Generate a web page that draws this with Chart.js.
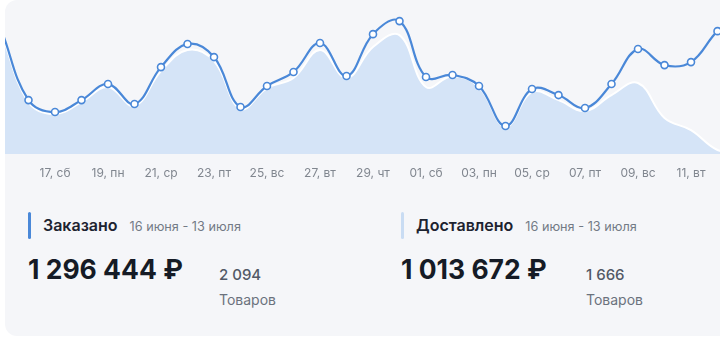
<!DOCTYPE html>
<html lang="ru">
<head>
<meta charset="utf-8">
<script src="https://cdn.jsdelivr.net/npm/chart.js@4.4.1/dist/chart.umd.min.js"></script>
<style>
    html, body { margin: 0; padding: 0; background: #fff; }
    body { width: 720px; height: 339px; overflow: hidden; position: relative; font-family: Inter, "Noto Sans", sans-serif; }
    .card { position: absolute; left: 5px; top: 0; width: 740px; height: 336px; background: #f5f6f9; border-radius: 12px; overflow: hidden; }
    .plot { position: absolute; left: 0; top: 0; width: 715px; height: 185px; overflow: hidden; }
    .plot canvas { position: absolute; left: -15px; top: 0; }
    .stat { position: absolute; top: 211px; }
    .stat .bar { position: absolute; left: 0; top: 1px; width: 3px; height: 27px; border-radius: 2px; }
    .stat .title { position: absolute; left: 15px; top: 4px; white-space: nowrap; font-size: 16px; font-weight: 600; color: #1d2330; }
    .stat .period { font-size: 12.7px; font-weight: 400; color: #737a85; margin-left: 12px; }
    .stat .sum { position: absolute; left: 0; top: 42px; white-space: nowrap; font-size: 26.5px; font-weight: 700; color: #151b26; }
    .stat .count { position: absolute; top: 54px; white-space: nowrap; font-size: 15px; font-weight: 500; color: #525966; }
    .stat .unit { position: absolute; top: 80px; white-space: nowrap; font-size: 14px; color: #6b727d; }
</style>
</head>
<body>
<div class="card">
    <div class="plot"><canvas id="chart" width="766" height="185"></canvas></div>
    <div class="stat" style="left:23px">
        <div class="bar" style="background:#4a88d8"></div>
        <div class="title">Заказано<span class="period">16 июня - 13 июля</span></div>
        <div class="sum">1 296 444 ₽</div>
        <div class="count" style="left:191px">2 094</div>
        <div class="unit" style="left:191px">Товаров</div>
    </div>
    <div class="stat" style="left:396px">
        <div class="bar" style="background:#c9dcf3"></div>
        <div class="title">Доставлено<span class="period">16 июня - 13 июля</span></div>
        <div class="sum">1 013 672 ₽</div>
        <div class="count" style="left:185px">1 666</div>
        <div class="unit" style="left:185px">Товаров</div>
    </div>
</div>
<script>
const days = ['15, чт', '16, пт', '17, сб', '18, вс', '19, пн', '20, вт', '21, ср', '22, чт', '23, пт', '24, сб',
    '25, вс', '26, пн', '27, вт', '28, ср', '29, чт', '30, пт', '01, сб', '02, вс', '03, пн', '04, вт',
    '05, ср', '06, чт', '07, пт', '08, сб', '09, вс', '10, пн', '11, вт', '12, ср', '13, чт'];

// заказано, руб. в день
const ordered = [73000, 32200, 25100, 32200, 41800, 29900, 51900, 65700, 57900, 28100,
    40600, 49000, 66300, 46600, 71600, 79400, 46000, 47200, 40600, 16700,
    38800, 35200, 27500, 41800, 62700, 53100, 54900, 73400, 84800];

// доставлено, руб. в день
const delivered = [71000, 31000, 23900, 31000, 40000, 28700, 49500, 62100, 55500, 26900,
    39400, 45400, 62100, 45400, 63900, 71000, 40000, 46600, 40000, 16100,
    37000, 32200, 25700, 35200, 42400, 21500, 14300, 2400, 0];

const gridValues = [40000, 80000];

new Chart(document.getElementById('chart'), {
    type: 'line',
    data: {
        labels: days,
        datasets: [{
            label: 'Заказано',
            data: ordered,
            borderColor: '#4a88d8',
            borderWidth: 2.2,
            tension: 0.4,
            fill: false,
            // первая точка за краем карточки
            pointRadius: c => c.dataIndex === 0 ? 0 : 3.5,
            pointBackgroundColor: '#fff',
            pointBorderColor: '#4a88d8',
            pointBorderWidth: 1.6,
        }, {
            label: 'Доставлено',
            data: delivered,
            borderColor: '#ffffff',
            borderWidth: 2,
            backgroundColor: '#d5e4f7',
            tension: 0.4,
            fill: 'origin',
            pointRadius: 0,
        }]
    },
    options: {
        responsive: false,
        animation: false,
        layout: { padding: 0, autoPadding: false },
        plugins: { legend: { display: false }, tooltip: { enabled: false } },
        scales: {
            x: {
                grid: { display: false, drawTicks: false },
                border: { display: false },
                ticks: {
                    autoSkip: false,
                    maxRotation: 0,
                    padding: 12,
                    color: '#80868f',
                    font: { family: 'Inter', size: 12 },
                    callback: (v, i) => (i % 2 === 0 && i > 0 && i < days.length - 1) ? days[i] : ''
                },
                afterFit: s => { s.height = 31; }
            },
            y: {
                min: 0,
                max: 92000,
                ticks: { display: false, stepSize: 40000 },
                grid: {
                    drawTicks: false,
                    lineWidth: 1,
                    color: c => gridValues.includes(c.tick.value) ? '#c3c8d1' : 'rgba(0,0,0,0)'
                },
                border: { display: false, dash: [2, 6] },
                afterFit: s => { s.width = 0; }
            }
        }
    }
});
</script>
</body>
</html>
